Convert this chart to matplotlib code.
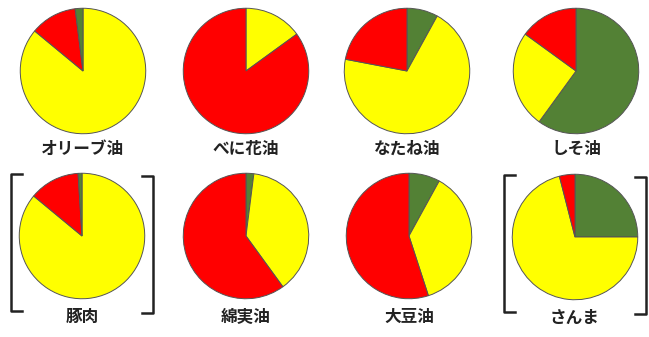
import matplotlib.pyplot as plt
from matplotlib.lines import Line2D

plt.rcParams['font.family'] = ['Noto Sans CJK JP', 'DejaVu Sans']

# shares (%) per food: n-3 (green), n-9 (yellow), n-6 (red)
foods = ["オリーブ油", "べに花油", "なたね油", "しそ油", "豚肉", "綿実油", "大豆油", "さんま"]
green = [2, 0, 8, 60, 1, 2, 8, 25]
yellow = [86, 15, 70, 25, 86, 38, 37, 71]
red = [12, 85, 22, 15, 13, 60, 55, 4]
bracketed = ["豚肉", "さんま"]

colors = {"g": "#538135", "y": "#ffff00", "r": "#ff0000"}

W, H = 649, 337
fig = plt.figure(figsize=(W / 100, H / 100), dpi=100)

# pie centres in pixels (x, y from top)
centers = [(83, 71), (246, 71), (407, 71), (576, 71),
           (82, 236), (246, 236), (409, 236), (575, 237)]
R = 64

for i, name in enumerate(foods):
    cx, cy = centers[i]
    ax = fig.add_axes([(cx - R) / W, 1 - (cy + R) / H, 2 * R / W, 2 * R / H])
    # olive oil and pork are drawn with green at the end (counter-clockwise side)
    if name in ("オリーブ油", "豚肉"):
        vals = [yellow[i], red[i], green[i]]
        cols = [colors["y"], colors["r"], colors["g"]]
    else:
        vals = [green[i], yellow[i], red[i]]
        cols = [colors["g"], colors["y"], colors["r"]]
    ax.pie(vals, colors=cols, startangle=90, counterclock=False,
           wedgeprops=dict(edgecolor="#555555", linewidth=0.7))
    ax.set_xlim(-1.02, 1.02)
    ax.set_ylim(-1.02, 1.02)

# overlay for labels and brackets
ov = fig.add_axes([0, 0, 1, 1])
ov.set_xlim(0, W)
ov.set_ylim(H, 0)
ov.axis("off")

for i, name in enumerate(foods):
    cx, cy = centers[i]
    ty = cy + 78 if i < 4 else cy + 81
    ov.text(cx, ty, name, ha="center", va="center", fontsize=12,
            fontweight="bold", color="#222222")

def bracket(x, y0, y1, dx):
    ov.add_line(Line2D([x + dx, x, x, x + dx], [y0, y0, y1, y1],
                       color="#222222", lw=1.8))

for name in bracketed:
    i = foods.index(name)
    cx, cy = centers[i]
    bracket(cx - 71, cy - 62, cy + 75, 11)
    bracket(cx + 71, cy - 60, cy + 77, -11)

fig.savefig("out.png", dpi=100)
